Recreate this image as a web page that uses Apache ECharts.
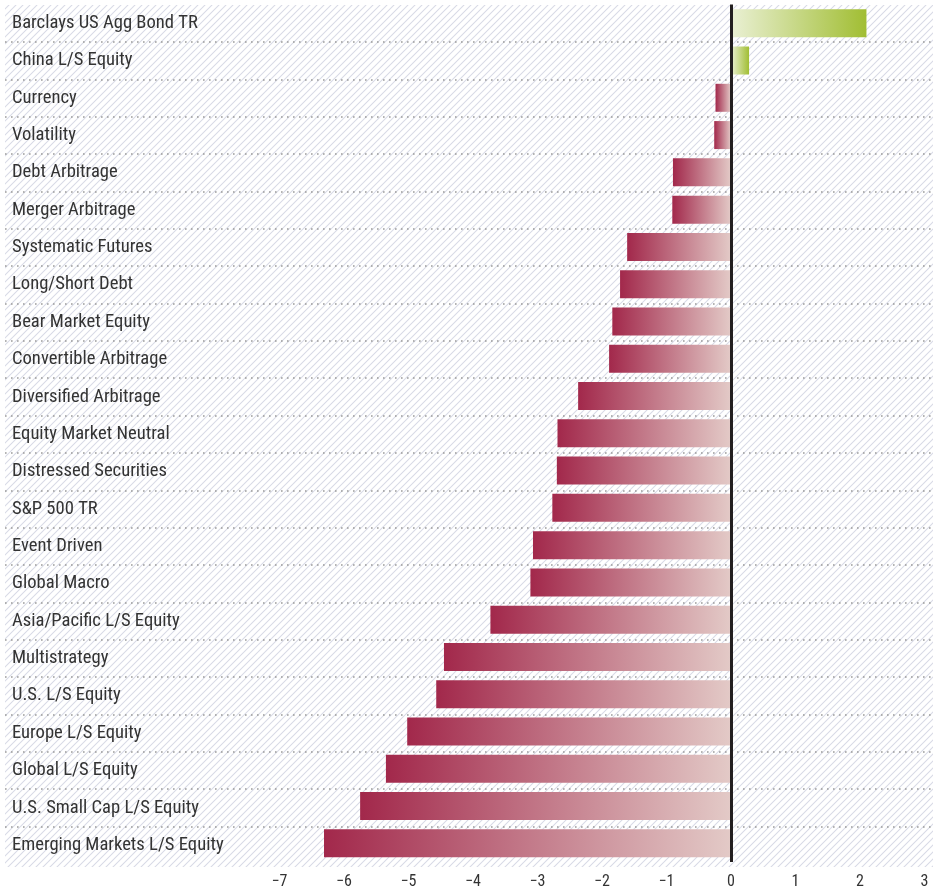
<!DOCTYPE html>
<html>
<head>
<meta charset="utf-8">
<script src="https://cdn.jsdelivr.net/npm/echarts@6/dist/echarts.min.js"></script>
<style>
  html, body { margin: 0; padding: 0; background: #ffffff; }
  #chart { width: 942px; height: 890px; }
</style>
</head>
<body>
<div id="chart"></div>
<script>
// Strategy names, top to bottom
const categories = [
  'Barclays US Agg Bond TR',
  'China L/S Equity',
  'Currency',
  'Volatility',
  'Debt Arbitrage',
  'Merger Arbitrage',
  'Systematic Futures',
  'Long/Short Debt',
  'Bear Market Equity',
  'Convertible Arbitrage',
  'Diversified Arbitrage',
  'Equity Market Neutral',
  'Distressed Securities',
  'S&P 500 TR',
  'Event Driven',
  'Global Macro',
  'Asia/Pacific L/S Equity',
  'Multistrategy',
  'U.S. L/S Equity',
  'Europe L/S Equity',
  'Global L/S Equity',
  'U.S. Small Cap L/S Equity',
  'Emerging Markets L/S Equity'
];

// Return for each strategy (same order as categories)
const returns = [
  2.10, 0.28, -0.24, -0.26, -0.90, -0.91, -1.61, -1.72, -1.84, -1.89,
  -2.37, -2.69, -2.70, -2.77, -3.07, -3.11, -3.73, -4.45, -4.57, -5.02,
  -5.35, -5.75, -6.31
];

// Value axis ticks
const tickValues = [-7, -6, -5, -4, -3, -2, -1, 0, 1, 2, 3];

const FONT = '"Roboto Condensed", "Liberation Sans Narrow", sans-serif';

// Diagonal hatch used as the panel background
function hatchPattern() {
  const s = 7;
  const c = document.createElement('canvas');
  c.width = s; c.height = s;
  const g = c.getContext('2d');
  g.fillStyle = '#ffffff';
  g.fillRect(0, 0, s, s);
  g.strokeStyle = '#d8dae6';
  g.lineWidth = 1.05;
  g.beginPath();
  g.moveTo(-1, s + 1); g.lineTo(s + 1, -1);
  g.moveTo(-1, 1); g.lineTo(1, -1);
  g.moveTo(s - 1, s + 1); g.lineTo(s + 1, s - 1);
  g.stroke();
  return c;
}

const negGradient = new echarts.graphic.LinearGradient(0, 0, 1, 0, [
  { offset: 0, color: '#a2284b' },
  { offset: 1, color: '#e3cac7' }
]);
const posGradient = new echarts.graphic.LinearGradient(0, 0, 1, 0, [
  { offset: 0, color: '#eaf0d4' },
  { offset: 1, color: '#a1be33' }
]);

const chart = echarts.init(document.getElementById('chart'), null, { renderer: 'canvas' });

const gridTop = 4.6;
const gridHeight = 859.3;

chart.setOption({
  animation: false,
  backgroundColor: '#ffffff',
  graphic: [{
    type: 'rect',
    z: -10,
    silent: true,
    shape: { x: 5, y: 5, width: 928, height: 862 },
    style: { fill: { image: hatchPattern(), repeat: 'repeat' } }
  }],
  grid: [
    { left: 279.5, right: 17.5, top: gridTop, height: gridHeight },
    { left: 5, right: 9, top: gridTop, height: gridHeight }
  ],
  xAxis: [{
    gridIndex: 0,
    type: 'value',
    min: -7,
    max: 3,
    interval: 1,
    axisLine: { show: false },
    axisTick: { show: false },
    splitLine: { show: false },
    axisLabel: {
      margin: 12,
      fontFamily: FONT,
      fontSize: 16,
      color: '#333333',
      formatter: v => tickValues.includes(v) ? (v < 0 ? '\u2212' + (-v) : String(v)) : ''
    }
  }, {
    gridIndex: 1,
    type: 'value',
    show: false
  }],
  yAxis: [{
    gridIndex: 0,
    type: 'category',
    data: categories,
    inverse: true,
    axisLine: { show: false },
    axisTick: { show: false },
    axisLabel: { show: false },
    splitLine: { show: false }
  }, {
    gridIndex: 1,
    type: 'category',
    data: categories,
    inverse: true,
    axisLine: { show: false },
    axisTick: { show: false },
    axisLabel: {
      inside: true,
      margin: 7,
      align: 'left',
      padding: [3, 0, 0, 0],
      fontFamily: FONT,
      fontSize: 18.6,
      color: '#333333'
    },
    splitLine: {
      show: true,
      showMinLine: false,
      showMaxLine: false,
      lineStyle: { color: '#9a9a9a', width: 1.6, type: [1.6, 4.4] }
    }
  }],
  series: [{
    type: 'bar',
    xAxisIndex: 0,
    yAxisIndex: 0,
    barWidth: 28,
    data: returns.map(v => ({
      value: v,
      itemStyle: { color: v < 0 ? negGradient : posGradient }
    })),
    markLine: {
      silent: true,
      symbol: 'none',
      label: { show: false },
      lineStyle: { color: '#231f20', width: 3, type: 'solid' },
      data: [{ xAxis: 0 }]
    }
  }]
});
</script>
</body>
</html>
